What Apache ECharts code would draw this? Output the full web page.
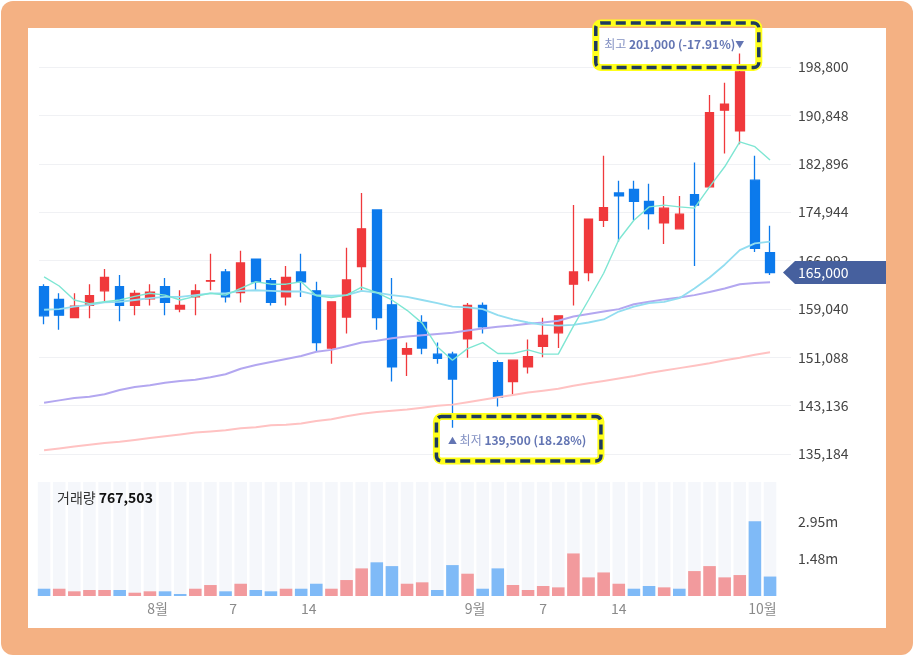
<!DOCTYPE html>
<html>
<head>
<meta charset="utf-8">
<script src="https://cdn.jsdelivr.net/npm/echarts@6/dist/echarts.min.js"></script>
<style>
html,body{margin:0;padding:0;background:#fff;width:914px;height:656px;overflow:hidden;}
#frame{position:absolute;left:1px;top:1px;width:912px;height:654px;background:#F4B183;border-radius:12px;}
#panel{position:absolute;left:28px;top:28px;width:858px;height:600px;background:#fff;}
#chart{position:absolute;left:0;top:0;width:914px;height:656px;}
</style>
</head>
<body>
<div id="frame"></div>
<div id="panel"></div>
<div id="chart"></div>
<script>
// ---------- data ----------
const opens  = [162700,160600,157600,159600,162000,162700,159600,160700,162700,159000,
                161000,163600,165100,161700,167200,163700,161000,165100,162000,152600,
                157700,166000,175300,159700,151600,156800,151600,151600,154100,159600,
                150200,147100,149500,152900,155100,163100,165000,173600,178100,178700,
                176700,173200,172200,177800,179100,191700,188300,180200,168300];
const closes = [157900,158000,159500,161200,164200,159600,161600,161800,160100,159600,
                162000,163700,161000,166600,163500,160100,164200,163500,153500,160200,
                163800,172200,157600,149500,152500,152600,150900,147500,159600,156100,
                144500,150600,151200,154700,157900,165100,173800,175700,177600,176700,
                174700,175600,174600,176100,191300,192700,198000,169000,165000];
const lows   = [156500,155600,157500,157500,160100,157000,158000,159600,158000,158500,
                158000,162100,160100,160100,162000,159600,159600,161000,152000,150000,
                155000,162000,155600,147100,148000,151600,150000,139500,151000,155000,
                143000,145000,148400,151100,152600,159600,163600,172500,170100,173600,
                172100,169700,172200,166100,179100,184600,186100,168400,164600];
const highs  = [163100,161600,161600,163100,165600,164600,162100,163100,164100,162100,
                163100,168100,165600,168600,167200,164100,166100,168100,163500,160200,
                169100,178100,175300,164100,153500,158000,153500,152000,160000,160100,
                150600,150600,154000,157600,157900,176100,173800,184200,180100,180100,
                179600,177600,177600,183100,194200,196200,201000,184200,172700];
const volumes = [287000,287400,185000,236000,236500,235800,130000,185300,184800,80000,
                 287200,433000,185100,484000,236200,185400,287300,287100,484300,287500,
                 630000,1090000,1330000,1180000,484100,540000,236300,1220000,880000,287600,
                 1090500,433200,236400,394000,341000,1680000,735000,930000,484200,287700,
                 394200,341200,287800,984000,1180500,735300,827000,2950000,767503];
const ma5   = [164300,162800,160500,159900,160200,160500,161100,161600,161300,160500,
               161100,161600,161300,162400,163500,163100,163100,163500,161200,160900,
               161300,162600,161700,160500,158800,156700,152800,150600,152500,153500,
               151700,151700,152300,151600,151600,156200,160500,164900,170400,173600,
               175800,176100,175800,175600,179100,182400,186500,185700,183500];
const ma20  = [158900,159000,159400,159700,160100,160200,160500,160800,161000,161000,
               161300,161600,161600,162000,162100,162000,161900,161900,161300,161200,
               161300,162000,161700,161300,161000,160500,160000,159400,159300,159000,
               158000,157300,156800,156400,156300,156400,156800,157300,158600,159400,
               160000,160200,160800,162400,164200,166300,168700,169800,170100];
const ma60  = [143600,144000,144400,144600,145000,145700,146200,146500,146900,147200,
               147400,147800,148300,149200,149800,150300,150800,151300,152000,152300,
               152900,153500,153800,154200,154500,154700,154900,155100,155500,155800,
               156100,156300,156600,156800,157100,157800,158200,158600,159000,159800,
               160200,160600,160900,161300,161800,162400,163100,163300,163400];
const ma120 = [135800,136100,136400,136700,137000,137200,137500,137800,138100,138400,
               138700,138900,139100,139400,139600,139900,140000,140200,140600,140900,
               141400,141800,142100,142300,142500,142800,143100,143300,143700,144100,
               144500,144900,145300,145600,145900,146400,146800,147200,147600,148000,
               148500,148900,149300,149700,150100,150600,151000,151500,151900];
const days = closes.map((_, i) => String(i + 1));
const priceTicks = [135184,143136,151088,159040,166992,174944,182896,190848,198800];
const volTicks = [1475000, 2950000];
const volTickLabels = ['1.48m', '2.95m'];
const dateTicks = [7.5, 12.5, 17.5, 28.5, 33, 38, 47.5];
const dateTickLabels = ['8월', '7', '14', '9월', '7', '14', '10월'];

// ---------- style ----------
const FONT = "'Noto Sans CJK KR','Noto Sans',sans-serif";
const RED = '#F0393C', BLUE = '#0C7AEC';
const VRED = '#F29A9D', VBLUE = '#7FBAF7';
const fmt = v => v.toLocaleString('en-US');

const candleData = opens.map((o, i) => [o, closes[i], lows[i], highs[i]]);
const volData = volumes.map((v, i) => {
  const up = i === 0 ? closes[i] >= opens[i] : closes[i] >= closes[i - 1];
  return { value: v, itemStyle: { color: up ? VRED : VBLUE } };
});

const chart = echarts.init(document.getElementById('chart'), null, { renderer: 'canvas' });

const lineS = (name, data, color, width) => ({
  name, type: 'line', data, xAxisIndex: 1, yAxisIndex: 1,
  symbol: 'none', showSymbol: false, smooth: false, z: 5,
  lineStyle: { color, width }, silent: true, clip: false
});

chart.setOption({
  animation: false,
  grid: [
    { left: 39, top: 67, width: 752, height: 387 },
    { left: 36.5, top: 67, width: 741.1, height: 387 },
    { left: 36.5, top: 482, width: 741.1, height: 114 }
  ],
  xAxis: [
    { gridIndex: 0, type: 'value', min: 0, max: 1, show: false },
    { gridIndex: 1, type: 'category', data: days, boundaryGap: true, show: false },
    { gridIndex: 2, type: 'category', data: days, boundaryGap: true, show: false, position: 'top' },
    { gridIndex: 2, type: 'value', position: 'bottom', min: -0.5, max: 48.5,
      axisLine: { show: false }, axisTick: { show: false }, splitLine: { show: false },
      axisLabel: {
        customValues: dateTicks, color: '#8a8a8a', fontSize: 14, margin: 6, fontFamily: FONT,
        formatter: v => { const k = dateTicks.findIndex(t => Math.abs(t - v) < 1e-6); return k >= 0 ? dateTickLabels[k] : ''; }
      } }
  ],
  yAxis: [
    { gridIndex: 0, type: 'value', position: 'right',
      min: priceTicks[0], max: priceTicks[priceTicks.length - 1], interval: priceTicks[1] - priceTicks[0],
      axisLine: { show: false }, axisTick: { show: false },
      axisLabel: { color: '#444', fontSize: 14, margin: 7, fontFamily: FONT, formatter: v => fmt(v) },
      splitLine: { lineStyle: { color: '#f0f1f4', width: 1 } } },
    { gridIndex: 1, type: 'value', min: priceTicks[0], max: priceTicks[priceTicks.length - 1], show: false },
    { gridIndex: 2, type: 'value', position: 'right', min: 0, max: 4500000,
      axisLine: { show: false }, axisTick: { show: false }, splitLine: { show: false },
      axisLabel: {
        customValues: volTicks, color: '#444', fontSize: 14, margin: 20.4, fontFamily: FONT,
        formatter: v => { const k = volTicks.findIndex(t => Math.abs(t - v) < 1); return k >= 0 ? volTickLabels[k] : ''; }
      } }
  ],
  series: [
    { name: 'candle', type: 'candlestick', xAxisIndex: 1, yAxisIndex: 1, data: candleData,
      barWidth: 9, clip: false, z: 3,
      itemStyle: { color: RED, color0: BLUE, borderColor: RED, borderColor0: BLUE, borderWidth: 1.3 } },
    lineS('MA120', ma120, '#FFC2C2', 2),
    lineS('MA60', ma60, '#B3A7F0', 2),
    lineS('MA20', ma20, '#92DDF0', 1.8),
    lineS('MA5', ma5, '#7EE6D3', 1.4),
    { name: 'volume', type: 'bar', xAxisIndex: 2, yAxisIndex: 2, data: volData,
      barWidth: '83%', showBackground: true, backgroundStyle: { color: '#f5f7fb' } }
  ]
});

// ---------- annotations (positions from the library's scales) ----------
const last = closes.length - 1;
const lastClose = closes[last];
const hiVal = Math.max(...highs), hiIdx = highs.indexOf(hiVal);
const loVal = Math.min(...lows), loIdx = lows.indexOf(loVal);
const hi = chart.convertToPixel({ gridIndex: 1 }, [hiIdx, hiVal]);
const lo = chart.convertToPixel({ gridIndex: 1 }, [loIdx, loVal]);
const cy = chart.convertToPixel({ gridIndex: 1 }, [last, lastClose])[1];
const hiPct = ((lastClose - hiVal) / hiVal * 100).toFixed(2);
const loPct = ((lastClose - loVal) / loVal * 100).toFixed(2);

const annRich = {
  l: { fontSize: 12, fill: '#8391C3', fontFamily: FONT },
  v: { fontSize: 12, fill: '#6375B3', fontWeight: 'bold', fontFamily: FONT },
  t: { fontSize: 9, fill: '#6375B3', fontFamily: FONT }
};
const boxPair = (x, y, w, h) => [
  { type: 'rect', z: 110, shape: { x, y, width: w, height: h, r: 5 },
    style: { fill: 'none', stroke: '#FFFF1A', lineWidth: 7 } },
  { type: 'rect', z: 111, shape: { x, y, width: w, height: h, r: 5 },
    style: { fill: 'none', stroke: '#1E3A5F', lineWidth: 3.5, lineDash: [10, 5] } }
];

chart.setOption({
  graphic: [
    { type: 'polygon', z: 100,
      shape: { points: [[783, cy], [795, cy - 11.5], [886, cy - 11.5], [886, cy + 11.5], [795, cy + 11.5]] },
      style: { fill: '#46609E' } },
    { type: 'text', z: 101, x: 798, y: cy,
      style: { text: fmt(lastClose), fill: '#fff', font: '14px ' + FONT, verticalAlign: 'middle' } },
    { type: 'text', z: 101, x: 57, y: 498,
      style: { text: '{a|거래량 }{b|' + fmt(volumes[last]) + '}', verticalAlign: 'middle',
        rich: { a: { fontSize: 14, fill: '#333', fontFamily: FONT },
                b: { fontSize: 14, fill: '#111', fontWeight: 'bold', fontFamily: FONT } } } },
    { type: 'text', z: 112, x: hi[0] + 4.5, y: hi[1] - 9.3,
      style: { text: '{l|최고 }{v|' + fmt(hiVal) + ' (' + hiPct + '%)}{t|▼}', align: 'right', verticalAlign: 'middle', rich: annRich } },
    { type: 'text', z: 112, x: lo[0] - 4.5, y: lo[1] + 13,
      style: { text: '{t|▲}{l| 최저 }{v|' + fmt(loVal) + ' (' + loPct + '%)}', align: 'left', verticalAlign: 'middle', rich: annRich } },
    ...boxPair(hi[0] - 144, hi[1] - 30.6, 163, 44.5),
    ...boxPair(lo[0] - 16, lo[1] - 11.2, 164.5, 44.5)
  ]
});
</script>
</body>
</html>
